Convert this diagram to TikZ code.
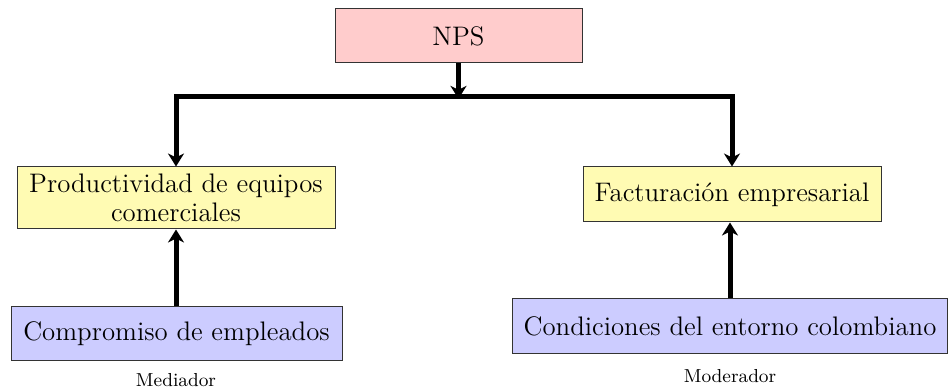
\documentclass[tikz,border=0pt]{standalone}
\usetikzlibrary{arrows.meta}
\begin{document}
\begin{tikzpicture}[x=0.5pt,y=-0.5pt,
  box/.style={draw=black!80, line width=0.5pt, inner sep=0pt, align=center,
    font=\fontsize{13.4pt}{14.5pt}\selectfont},
  npsbox/.style={box, fill=red!20},
  outbox/.style={box, fill=yellow!30},
  inbox/.style={box, fill=blue!20},
  lab/.style={font=\fontsize{9.4pt}{11pt}\selectfont, inner sep=0pt},
  conn/.style={line width=2.5pt, -{Stealth[length=6.5pt, width=8pt, inset=2pt]}}
]
\useasboundingbox (0,0) rectangle (948,389);
\node[npsbox, minimum width=123.5pt, minimum height=27pt] (nps) at (458.5,36) {NPS};
\node[outbox, minimum width=159pt, minimum height=31pt] (prod) at (176,198) {Productividad de equipos\\comerciales};
\node[outbox, minimum width=149pt, minimum height=27.5pt] (fact) at (732,194.5) {Facturación empresarial};
\node[inbox, minimum width=165.5pt, minimum height=27pt] (comp) at (176.5,334) {Compromiso de empleados};
\node[inbox, minimum width=217.5pt, minimum height=27.5pt] (cond) at (730,326.5) {Condiciones del entorno colombiano};
\node[lab] (med) at (176,380) {Mediador};
\node[lab] (mod) at (730,376) {Moderador};
\coordinate (j) at (458.5,96.5);
\draw[conn] (nps.south) -- ([yshift=-1.2pt]j);
\draw[conn] (j) -| (prod.north);
\draw[conn] (j) -| (fact.north);
\draw[conn] (prod.south |- comp.north) -- (prod.south);
\draw[conn] (cond.north) -- (cond.north |- fact.south);
\end{tikzpicture}
\end{document}
